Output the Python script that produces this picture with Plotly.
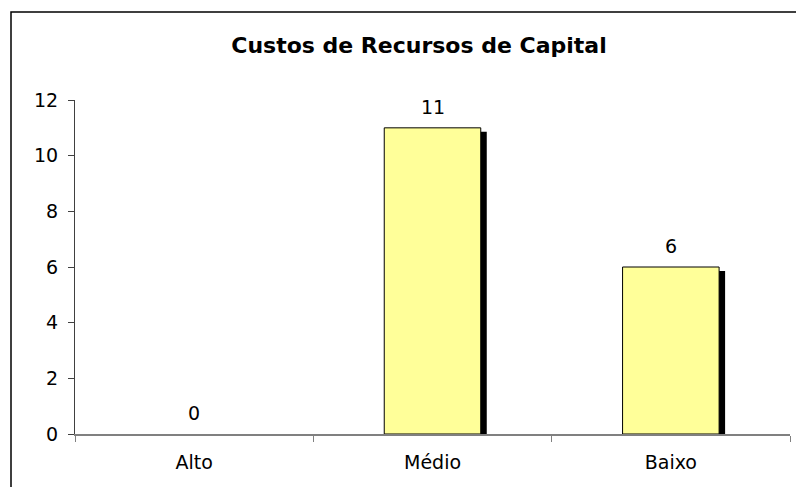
import plotly.graph_objects as go

categories = ["Alto", "Médio", "Baixo"]
values = [0, 11, 6]
y_ticks = [0, 2, 4, 6, 8, 10, 12]
title_text = "Custos de Recursos de Capital"

W, H = 796, 487
L, R, T, B = 75, 6, 100, 53
plot_w = W - L - R
plot_h = H - T - B
px_per_cat = plot_w / len(categories)
bar_width = 0.405
shadow_dx = 6 / px_per_cat
yrange = [0, 12]
shadow_dy = 4 * (yrange[1] - yrange[0]) / plot_h

font = "DejaVu Sans, Liberation Sans, Arial, sans-serif"

fig = go.Figure()
# shadow (drawn first, on hidden axis shifted a few pixels down)
fig.add_trace(go.Bar(
    x=categories, y=values, width=bar_width, offset=-bar_width / 2 + shadow_dx,
    marker=dict(color="black", line=dict(width=0)),
    yaxis="y", hoverinfo="skip", showlegend=False,
))
# main bars
fig.add_trace(go.Bar(
    x=categories, y=values, width=bar_width, offset=-bar_width / 2,
    marker=dict(color="#FFFF99",
                line=dict(color="black", width=[0 if v == 0 else 1 for v in values])),
    yaxis="y2", showlegend=False,
))

for c, v in zip(categories, values):
    fig.add_annotation(x=c, y=v, xref="x", yref="y2", text=str(v), showarrow=False,
                       yanchor="bottom", yshift=8,
                       font=dict(family=font, size=19, color="black"))

fig.update_layout(
    width=W, height=H,
    margin=dict(l=L, r=R, t=T, b=B, autoexpand=False),
    paper_bgcolor="white", plot_bgcolor="white",
    barmode="overlay",
    title=dict(text="<b>" + title_text + "</b>", xref="container", x=419 / W,
               xanchor="center", yref="container", y=1 - 45 / H, yanchor="middle",
               font=dict(family=font, size=22, color="black")),
    xaxis=dict(showline=True, linecolor="#808080", linewidth=1.5,
               ticks="outside", tickson="boundaries", ticklen=6, tickcolor="#808080",
               tickfont=dict(family=font, size=19, color="black"),
               showgrid=False, zeroline=False, automargin=False, ticklabelstandoff=10),
    yaxis=dict(range=[yrange[0] + shadow_dy, yrange[1] + shadow_dy], visible=False,
               automargin=False),
    yaxis2=dict(range=yrange, tickvals=y_ticks, overlaying="y", side="left",
                showline=True, linecolor="#404040", linewidth=1, ticks="outside",
                ticklen=6, tickcolor="#404040",
                tickfont=dict(family=font, size=19, color="black"),
                showgrid=False, zeroline=False, ticklabelstandoff=6, automargin=False),
)

# outer chart frame (cut off at right and bottom like the reference)
fig.add_shape(type="rect", xref="paper", yref="paper", layer="above",
              x0=(11 - L) / plot_w, x1=(W + 10 - L) / plot_w,
              y0=(H - B - (H + 10)) / plot_h, y1=(H - B - 12) / plot_h,
              line=dict(color="black", width=1.5), fillcolor="rgba(0,0,0,0)")

fig.write_html("out.html", config={"displayModeBar": False},
               post_script="document.body.style.margin='0';document.body.style.overflow='hidden';")
